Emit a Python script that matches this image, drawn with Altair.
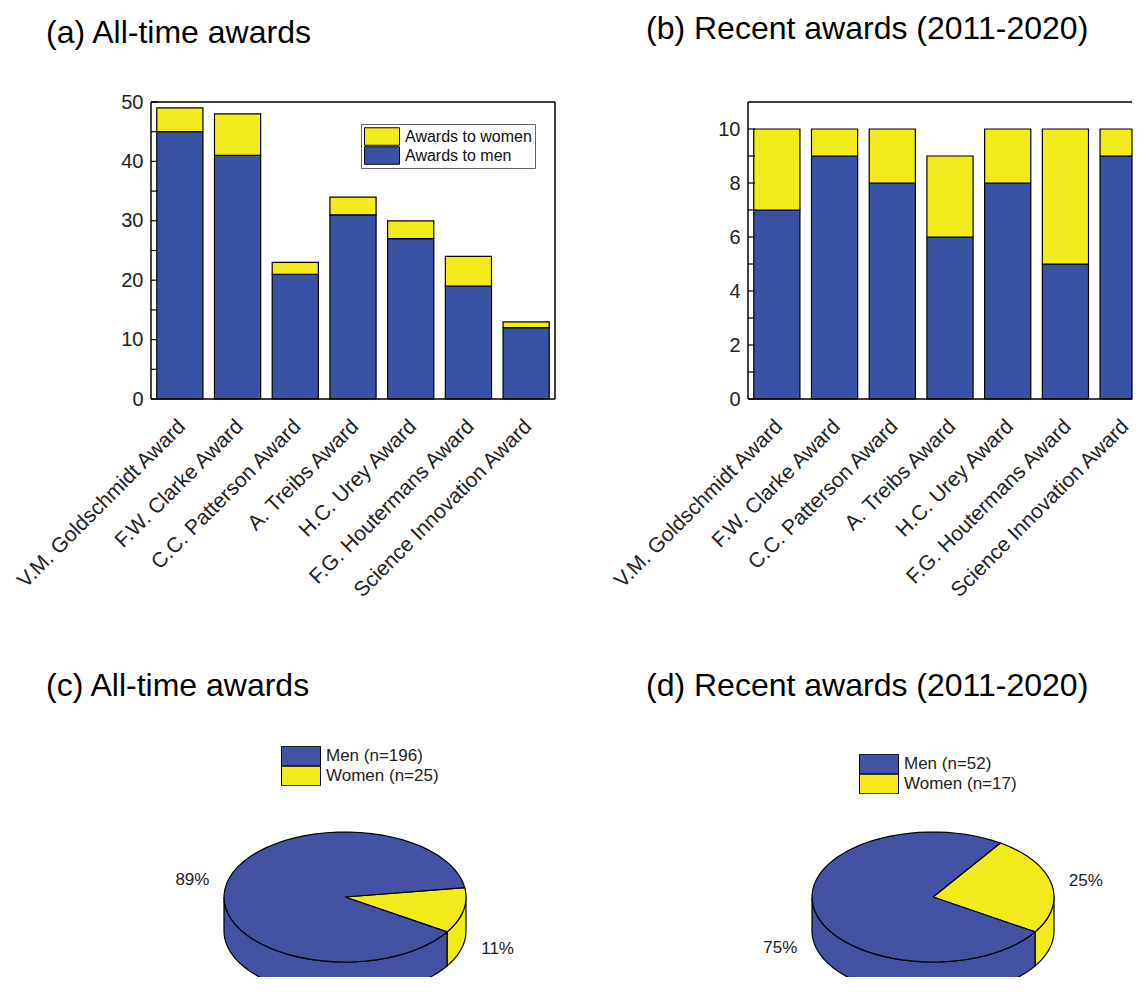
import json
import math
import altair as alt
import pandas as pd

# ---------------- data ----------------
AWARDS = [
    "V.M. Goldschmidt Award",
    "F.W. Clarke Award",
    "C.C. Patterson Award",
    "A. Treibs Award",
    "H.C. Urey Award",
    "F.G. Houtermans Award",
    "Science Innovation Award",
]
ALL_MEN = [45, 41, 21, 31, 27, 19, 12]
ALL_WOMEN = [4, 7, 2, 3, 3, 5, 1]
RECENT_MEN = [7, 9, 8, 6, 8, 5, 9]
RECENT_WOMEN = [3, 1, 2, 3, 2, 5, 1]

SEX_LABELS = ["Awards to women", "Awards to men"]
YLABELS_A = [0, 10, 20, 30, 40, 50]
YTICKS_A = [0, 5, 10, 15, 20, 25, 30, 35, 40, 45, 50]
YLABELS_B = [0, 2, 4, 6, 8, 10]
YTICKS_B = [0, 1, 2, 3, 4, 5, 6, 7, 8, 9, 10]

PIE_GROUPS = ["Women", "Men"]
PIE_ALL = [sum(ALL_WOMEN), sum(ALL_MEN)]
PIE_RECENT = [sum(RECENT_WOMEN), sum(RECENT_MEN)]

TITLES = ["(a) All-time awards", "(b) Recent awards (2011-2020)",
          "(c) All-time awards", "(d) Recent awards (2011-2020)"]

# ---------------- style ----------------
FONT = "Liberation Sans"
BLUE = "#3853A4"
PIE_BLUE = "#4452A3"
YELLOW = "#F2EA1A"
W = 404          # full width of a bar panel
W_B = 384        # visible width of the right column (cut at the page edge)
H_BAR = 297
H_PIE = 258      # pie panels are cut at the page bottom
TITLE_SIZE = 32
BAR_HALF = 0.4   # half bar width in category steps

# pie geometry (units: 1 = horizontal radius)
PX = 121.0
RY = 65 / PX
DEPTH = 34 / PX
START = math.radians(-32.5)
NSEG = 60
LR, LRY, LOFF = 1.29, 1.35, 0.144


def title_layer(text, dx, dy):
    return alt.Chart(pd.DataFrame({"t": [text]})).mark_text(
        align="left", baseline="top", fontSize=TITLE_SIZE, font=FONT, color="black"
    ).encode(text="t:N", x=alt.value(dx), y=alt.value(dy))


def y_axis(values):
    return alt.Axis(values=values, ticks=False, domain=False, grid=False,
                    labelFontSize=20, labelPadding=8, labelColor="#222", labelFont=FONT)


def bar_panel(men, women, ymax, ylabels, yticks, title, tdx, tdy, legend, view_w):
    rows = []
    for i, (a, m, w) in enumerate(zip(AWARDS, men, women)):
        rows.append({"idx": i, "award": a, "sex": SEX_LABELS[1], "count": m, "ord": 0})
        rows.append({"idx": i, "award": a, "sex": SEX_LABELS[0], "count": w, "ord": 1})
    df = pd.DataFrame(rows)
    step = W / len(AWARDS)
    xmax = -0.5 + view_w / step
    label_expr = json.dumps(AWARDS) + "[datum.value]"
    xscale = alt.Scale(domain=[-0.5, xmax], nice=False, zero=False)
    bars = (alt.Chart(df)
            .transform_stack(stack="count", as_=["y0", "y1"], groupby=["idx"],
                             sort=[alt.SortField("ord")])
            .transform_calculate(xl=f"datum.idx - {BAR_HALF}")
            .transform_calculate(xr=f"min(datum.idx + {BAR_HALF}, {xmax})")
            .mark_rect(stroke="black", strokeWidth=1.2, opacity=1)
            .encode(
                x=alt.X("xl:Q", title=None, scale=xscale,
                        axis=alt.Axis(values=list(range(len(AWARDS))), labelExpr=label_expr,
                                      labelAngle=-45, labelAlign="right", labelBaseline="middle",
                                      labelPadding=24, labelOffset=2, ticks=False, domain=False,
                                      grid=False, labelFontSize=21, labelColor="#222",
                                      labelLimit=400, labelFont=FONT, labelOverlap=False)),
                x2="xr:Q",
                y=alt.Y("y1:Q", title=None, scale=alt.Scale(domain=[0, ymax], nice=False),
                        axis=y_axis(ylabels)),
                y2="y0:Q",
                color=alt.Color("sex:N", scale=alt.Scale(domain=SEX_LABELS, range=[YELLOW, BLUE]),
                                legend=legend),
            ))
    ticks = alt.Chart(pd.DataFrame({"v": yticks})).mark_rule(color="black", strokeWidth=1.2).encode(
        x=alt.value(0), x2=alt.value(7),
        y=alt.Y("v:Q", title=None, axis=y_axis(ylabels)))
    frame_top = alt.Chart().mark_rule(color="black", strokeWidth=1.5).encode(
        x=alt.value(0), x2=alt.value(view_w), y=alt.value(0))
    frame_bottom = alt.Chart().mark_rule(color="black", strokeWidth=1.5).encode(
        x=alt.value(0), x2=alt.value(view_w), y=alt.value(H_BAR))
    frame_left = alt.Chart().mark_rule(color="black", strokeWidth=1.5).encode(
        x=alt.value(0), y=alt.value(0), y2=alt.value(H_BAR))
    layers = [bars, ticks, frame_top, frame_bottom, frame_left]
    if view_w >= W:
        frame_right = alt.Chart().mark_rule(color="black", strokeWidth=1.5).encode(
            x=alt.value(view_w), y=alt.value(0), y2=alt.value(H_BAR))
        layers.append(frame_right)
    layers.append(title_layer(title, tdx, tdy))
    return alt.layer(*layers).properties(
        width=view_w, height=H_BAR, view=alt.ViewBackground(stroke="transparent"))


def pie_panel(counts, title, tdx, tdy, cx_px, cy_px, legend_x, legend_y, view_w):
    labels = [f"{g} (n={n})" for g, n in zip(PIE_GROUPS, counts)]
    df = pd.DataFrame({"g": PIE_GROUPS, "n": counts, "ord": [0, 1], "label": labels})
    base = (alt.Chart(df)
            .transform_joinaggregate(total="sum(n)")
            .transform_window(cum="sum(n)", sort=[alt.SortField("ord")], frame=[None, 0])
            .transform_calculate(a0=f"{START} + 2*PI*(datum.cum - datum.n)/datum.total")
            .transform_calculate(a1=f"{START} + 2*PI*datum.cum/datum.total"))

    ymin = -(H_PIE - cy_px) / PX
    ycut = ymin - 2 / PX            # page bottom: the pie is cut there
    xs = alt.Scale(domain=[-cx_px / PX, (view_w - cx_px) / PX], nice=False, zero=False)
    ys = alt.Scale(domain=[ymin, cy_px / PX], nice=False, zero=False)
    legend = alt.Legend(orient="none", legendX=legend_x, legendY=legend_y, title=None,
                        symbolType="M-1,-0.5H1V0.5H-1Z", symbolSize=1521,
                        symbolStrokeColor="black", symbolStrokeWidth=1, symbolOpacity=1,
                        clipHeight=20, labelFontSize=17, labelOffset=5, rowPadding=0,
                        padding=0, labelFont=FONT, labelColor="#222")
    color = alt.Color("label:N",
                      scale=alt.Scale(domain=[labels[1], labels[0]], range=[PIE_BLUE, YELLOW]),
                      legend=legend)

    side = (base
            .transform_calculate(seg="[1, 2]")
            .transform_flatten(["seg"])
            .transform_calculate(s0="datum.seg == 1 ? max(datum.a0, -PI) : max(datum.a0, PI)")
            .transform_calculate(s1="datum.seg == 1 ? min(datum.a1, 0) : min(datum.a1, 2*PI)")
            .transform_filter("datum.s1 > datum.s0")
            .transform_calculate(k=f"sequence(0, {2 * NSEG + 3})")
            .transform_flatten(["k"])
            .transform_calculate(
                j=f"datum.k <= {NSEG} ? datum.k : (datum.k <= {2 * NSEG + 1} ? {2 * NSEG + 1} - datum.k : 0)")
            .transform_calculate(bot=f"(datum.k > {NSEG} && datum.k <= {2 * NSEG + 1}) ? 1 : 0")
            .transform_calculate(t=f"datum.s0 + (datum.s1 - datum.s0) * datum.j / {NSEG}")
            .transform_calculate(px="cos(datum.t)")
            .transform_calculate(py=f"max({RY} * sin(datum.t) - datum.bot * {DEPTH}, {ycut})")
            .transform_calculate(key="datum.g + '-' + datum.seg")
            .mark_line(filled=True, stroke="black", strokeWidth=1.2, strokeJoin="round", clip=True)
            .encode(x=alt.X("px:Q", scale=xs, axis=None), y=alt.Y("py:Q", scale=ys, axis=None),
                    color=color, detail="key:N", order="k:Q"))

    top = (base
           .transform_calculate(k=f"sequence(-1, {NSEG + 2})")
           .transform_flatten(["k"])
           .transform_calculate(t=f"datum.a0 + (datum.a1 - datum.a0) * clamp(datum.k, 0, {NSEG}) / {NSEG}")
           .transform_calculate(inner=f"(datum.k < 0 || datum.k > {NSEG}) ? 1 : 0")
           .transform_calculate(px="datum.inner ? 0 : cos(datum.t)")
           .transform_calculate(py=f"datum.inner ? 0 : max({RY} * sin(datum.t), {ycut})")
           .mark_line(filled=True, stroke="black", strokeWidth=1.2, strokeJoin="round", clip=True)
           .encode(x=alt.X("px:Q", scale=xs, axis=None), y=alt.Y("py:Q", scale=ys, axis=None),
                   color=color, detail="g:N", order="k:Q"))

    text = (base
            .transform_calculate(mid="(datum.a0 + datum.a1) / 2")
            .transform_calculate(px=f"{LR} * cos(datum.mid)")
            .transform_calculate(py=f"{LRY} * sin(datum.mid) - {LOFF}")
            .transform_calculate(pct="format(datum.n / datum.total, '.0%')")
            .mark_text(fontSize=17, color="#222", align="center", baseline="middle", font=FONT)
            .encode(x=alt.X("px:Q", scale=xs, axis=None), y=alt.Y("py:Q", scale=ys, axis=None),
                    text="pct:N"))

    return alt.layer(side, top, text, title_layer(title, tdx, tdy)).properties(
        width=view_w, height=H_PIE, view=alt.ViewBackground(stroke="transparent"))


legend_a = alt.Legend(orient="none", legendX=210, legendY=22, title=None,
                      symbolType="M-1,-0.5H1V0.5H-1Z", symbolSize=1225,
                      symbolStrokeColor="black", symbolStrokeWidth=1, symbolOpacity=1,
                      clipHeight=19, labelFontSize=16, labelOffset=5, rowPadding=0,
                      padding=3, strokeColor="#666", fillColor="white",
                      labelFont=FONT, labelColor="#111")

panel_a = bar_panel(ALL_MEN, ALL_WOMEN, 50, YLABELS_A, YTICKS_A,
                    TITLES[0], -105, -84, legend_a, W)
panel_b = bar_panel(RECENT_MEN, RECENT_WOMEN, 11, YLABELS_B, YTICKS_B,
                    TITLES[1], -102, -88, None, W_B)
panel_c = pie_panel(PIE_ALL, TITLES[2], -105, -48, 194, 178, 130, 27, W)
panel_d = pie_panel(PIE_RECENT, TITLES[3], -102, -48, 185, 178, 111, 35, W_B)

chart = (alt.concat(panel_a, panel_b, panel_c, panel_d, columns=2,
                    spacing={"row": 320, "column": 193}, bounds="flush")
         .resolve_scale(color="independent")
         .properties(padding={"left": 3, "top": 4, "right": 0, "bottom": 0})
         .configure(font=FONT))

chart.save("out.html", embed_options={"renderer": "svg", "actions": False})
